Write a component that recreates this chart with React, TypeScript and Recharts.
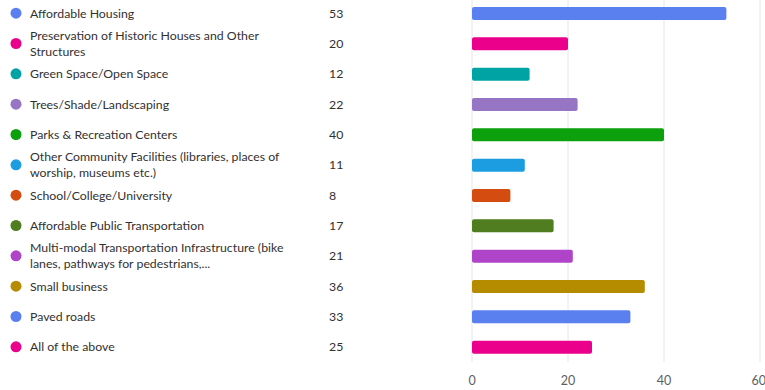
import { Bar, BarChart, CartesianGrid, Cell, XAxis, YAxis } from 'recharts';

const categories = [
  'Affordable Housing',
  'Preservation of Historic Houses and Other\nStructures',
  'Green Space/Open Space',
  'Trees/Shade/Landscaping',
  'Parks & Recreation Centers',
  'Other Community Facilities (libraries, places of\nworship, museums etc.)',
  'School/College/University',
  'Affordable Public Transportation',
  'Multi-modal Transportation Infrastructure (bike\nlanes, pathways for pedestrians,...',
  'Small business',
  'Paved roads',
  'All of the above',
];

const counts = [53, 20, 12, 22, 40, 11, 8, 17, 21, 36, 33, 25];

const colors = [
  '#5a80f0', '#ea008a', '#00a3a3', '#9575c4', '#0ca00c', '#1c9de2',
  '#d44c10', '#4f7d1f', '#b044c8', '#b58b00', '#5a80f0', '#ea008a',
];

const xTicks = [0, 20, 40, 60];

const data = categories.map((name, i) => ({ name, value: counts[i] }));

const FONT = 'Lato, "Noto Sans", sans-serif';
const TEXT = '#323130';

// fila de la lista: punto, texto (1 o 2 líneas) y valor
function RowTick(props: any) {
  const { y, payload } = props;
  const i = payload.index;
  const lines = String(payload.value).split('\n');
  return (
    <g>
      <circle cx={16} cy={y} r={5.5} fill={colors[i]} />
      {lines.map((ln, k) => (
        <text
          key={k}
          x={30}
          y={y + (lines.length === 1 ? 0 : k === 0 ? -8 : 8)}
          dominantBaseline="central"
          fontSize={12.3}
          fontFamily={FONT}
          fill={TEXT}
        >
          {ln}
        </text>
      ))}
      <text x={329} y={y} dominantBaseline="central" fontSize={12.3} fontFamily={FONT} fill={TEXT}>
        {counts[i]}
      </text>
    </g>
  );
}

export default function App() {
  return (
    <div style={{ position: 'absolute', left: 0, top: 0, background: '#fff' }}>
      <BarChart
        width={765}
        height={390}
        data={data}
        layout="vertical"
        margin={{ top: -2, right: 5, left: 0, bottom: 0 }}
        barCategoryGap={0}
      >
        <CartesianGrid horizontal={false} stroke="#e6e6e6" />
        <XAxis
          type="number"
          domain={[0, 60]}
          ticks={xTicks}
          axisLine={false}
          tickLine={false}
          tickMargin={8}
          height={28}
          tick={{ fontSize: 12.5, fill: '#605e5c', fontFamily: FONT }}
        />
        <YAxis
          type="category"
          dataKey="name"
          width={472}
          axisLine={false}
          tickLine={false}
          interval={0}
          tick={<RowTick />}
        />
        <Bar dataKey="value" barSize={13} radius={2} isAnimationActive={false}>
          {data.map((d, i) => (
            <Cell key={i} fill={colors[i]} />
          ))}
        </Bar>
      </BarChart>
    </div>
  );
}
